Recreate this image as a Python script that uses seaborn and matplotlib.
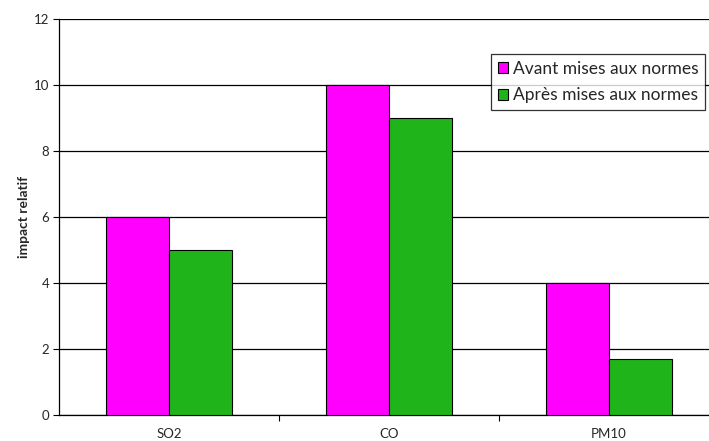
import matplotlib
matplotlib.use("Agg")
import matplotlib.pyplot as plt
from matplotlib.ticker import MultipleLocator, FixedLocator, NullFormatter
import seaborn as sns
import pandas as pd

# Pollutants and relative impact before / after compliance upgrades
polluants = ["SO2", "CO", "PM10"]
avant = [6, 10, 4]
apres = [5, 9, 1.7]
series = ["Avant mises aux normes", "Après mises aux normes"]
couleurs = ["#FF00FF", "#1FB51A"]

df = pd.DataFrame({
    "polluant": polluants * 2,
    "impact": avant + apres,
    "serie": [series[0]] * len(polluants) + [series[1]] * len(polluants),
})

sns.set_style("white")
plt.rcParams["font.family"] = ["Lato", "DejaVu Sans"]

fig = plt.figure(figsize=(7.09, 4.41), dpi=100)
# plot area runs slightly past the right border of the figure
ax = fig.add_axes([59 / 709, 1 - 415 / 441, 660 / 709, 396 / 441])

sns.barplot(data=df, x="polluant", y="impact", hue="serie",
            palette=couleurs, width=0.57, edgecolor="black",
            linewidth=0.8, saturation=1, ax=ax, zorder=3)

ax.set_xlim(-0.5, 2.5)
ax.set_ylim(0, 12)
ax.yaxis.set_major_locator(MultipleLocator(2))
ax.grid(axis="y", color="black", linewidth=0.9, zorder=0)
ax.set_axisbelow(True)

for s in ["top", "right"]:
    ax.spines[s].set_visible(False)
for s in ["left", "bottom"]:
    ax.spines[s].set_color("black")
    ax.spines[s].set_linewidth(0.9)

ax.tick_params(axis="y", which="major", left=True, length=4, width=0.8,
               color="black", labelsize=9.5, pad=3)
ax.tick_params(axis="x", which="major", bottom=False, labelsize=9.5, pad=6)
ax.xaxis.set_minor_locator(FixedLocator([0.5, 1.5]))
ax.xaxis.set_minor_formatter(NullFormatter())
ax.tick_params(axis="x", which="minor", bottom=True, length=4, width=0.8,
               color="black")

ax.set_xlabel("")
ax.set_ylabel("impact relatif", fontsize=10, fontweight="bold", labelpad=3)

leg = ax.legend(loc="upper left", bbox_to_anchor=(491 / 709, 1 - 54 / 441),
                bbox_transform=fig.transFigure, frameon=True, fancybox=False,
                fontsize=12.5, handlelength=0.6, handleheight=0.6,
                handletextpad=0.25, labelspacing=0.6, borderpad=0.4,
                borderaxespad=0)
leg.get_frame().set_edgecolor("black")
leg.get_frame().set_linewidth(0.9)
leg.set_title(None)
for h in leg.legend_handles:
    h.set_edgecolor("black")
    h.set_linewidth(0.8)

fig.savefig("out.png", dpi=100, facecolor="white")
